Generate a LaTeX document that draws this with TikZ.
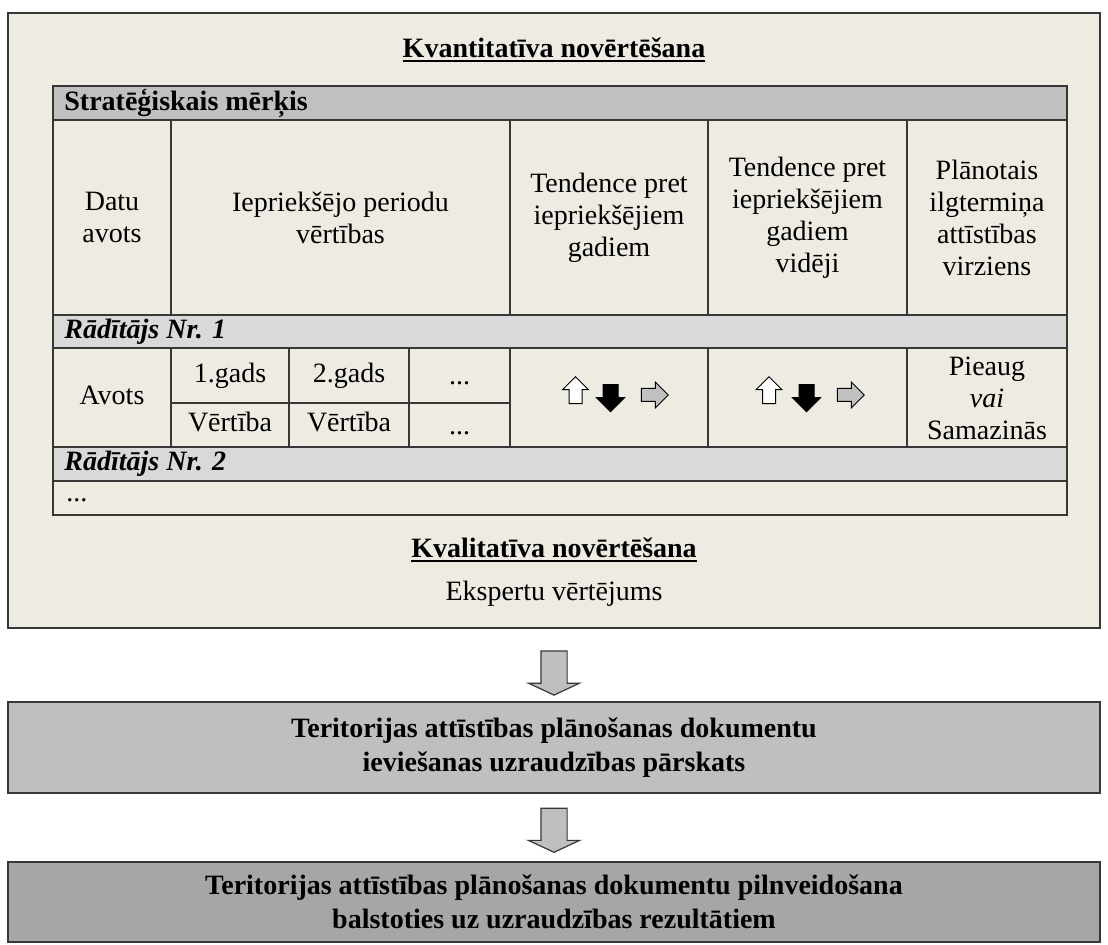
\documentclass[tikz,border=0pt]{standalone}
\usepackage{fontspec}
\setmainfont{Liberation Serif}
\usepackage{tikz}
\usetikzlibrary{shapes.arrows,calc}
\usepackage{xcolor}
\definecolor{panelbg}{RGB}{237,235,226}
\definecolor{hdrgrey}{RGB}{192,192,192}
\definecolor{rowgrey}{RGB}{217,217,217}
\definecolor{boxgrey}{RGB}{191,191,191}
\definecolor{darkgrey}{RGB}{166,166,166}
\definecolor{linegrey}{RGB}{55,55,55}
\newcommand{\tabfont}{\fontsize{14}{16}\selectfont}
\newcommand{\boxfont}{\fontsize{14}{17}\selectfont}
\newcommand{\thickul}[1]{\setbox0\hbox{#1}\leavevmode\rlap{\rule[-2.5pt]{\wd0}{1pt}}\box0}

\begin{document}
\begin{tikzpicture}[x=0.5pt, y=-0.5pt,
    panel/.style={rectangle, draw=linegrey, line width=1pt, fill=panelbg,
                  minimum width=546pt, minimum height=307.5pt, inner sep=0pt},
    stage/.style={rectangle, draw=linegrey, line width=1pt, minimum width=546pt,
                  font=\boxfont\bfseries, align=center},
    heading/.style={font=\tabfont\bfseries, inner sep=0pt},
    cell/.style={font=\tabfont, align=center},
    val/.style={font=\tabfont, text height=10pt, text depth=3pt},
    rowlabel/.style={font=\tabfont\bfseries\itshape, anchor=west, inner sep=0pt},
    grid/.style={draw=linegrey, line width=0.8pt},
    trend/.style={single arrow, draw=black, line width=0.5pt, inner sep=3pt,
                  single arrow head extend=3.25pt, minimum height=13.5pt},
    bigarr/.style={single arrow, draw=linegrey, fill=boxgrey, line width=0.6pt,
                   rotate=-90, minimum height=22pt, inner sep=6.25pt,
                   single arrow head extend=6.25pt, single arrow tip angle=130}
]
    \useasboundingbox (0,0) rectangle (1108,945);

    % Evaluation panel
    \node[panel] (eval) at (554,320.5) {};
    \node[heading] (quant) at (554,50) {\thickul{Kvantitatīva novērtēšana}};

    % Table fills
    \fill[hdrgrey] (53,86) rectangle (1067,120);
    \fill[rowgrey] (53,315) rectangle (1067,348);
    \fill[rowgrey] (53,447) rectangle (1067,481);

    % Table lines
    \draw[grid] (53,86) rectangle (1067,515);
    \foreach \yy in {120,315,348,447,481}
        \draw[grid] (53,\yy) -- (1067,\yy);
    \draw[grid] (171,403) -- (510,403);
    \foreach \xx in {171,510,708,907} {
        \draw[grid] (\xx,120) -- (\xx,315);
        \draw[grid] (\xx,348) -- (\xx,447);
    }
    \foreach \xx in {289,409}
        \draw[grid] (\xx,348) -- (\xx,447);

    % Header rows
    \node[rowlabel, font=\tabfont\bfseries] (goal) at (64,103) {Stratēģiskais mērķis};
    \node[cell] (src) at (112,217.5) {Datu\\avots};
    \node[cell] (past) at (340.5,217.5) {Iepriekšējo periodu\\vērtības};
    \node[cell] (trend1) at (609,217.5) {Tendence pret\\iepriekšējiem\\gadiem};
    \node[cell] (trend2) at (807.5,217.5) {Tendence pret\\iepriekšējiem\\gadiem\\vidēji};
    \node[cell] (plan) at (987,217.5) {Plānotais\\ilgtermiņa\\attīstības\\virziens};

    % Indicator 1
    \node[rowlabel] (ind1) at (64,331.5) {Rādītājs Nr. 1};
    \node[val] (avots) at (112,397.5) {Avots};
    \node[val] (y1) at (230,375.5) {1.gads};
    \node[val] (y2) at (349,375.5) {2.gads};
    \node[val] (yn) at (459.5,378) {...};
    \node[val] (v1) at (230,425) {Vērtība};
    \node[val] (v2) at (349,425) {Vērtība};
    \node[val] (vn) at (459.5,428) {...};
    \node[cell] (dir) at (987,398) {Pieaug\\\textit{vai}\\Samazinās};

    % Trend arrows
    \node[trend, fill=white, rotate=90] (up1) at (575.5,393.5) {};
    \node[trend, fill=black, rotate=-90, inner sep=3.5pt] (dn1) at (610.5,394.5) {};
    \node[trend, fill=hdrgrey] (rt1) at (651.5,395) {};
    \node[trend, fill=white, rotate=90] (up2) at (769,393.5) {};
    \node[trend, fill=black, rotate=-90, inner sep=3.5pt] (dn2) at (806.5,394.5) {};
    \node[trend, fill=hdrgrey] (rt2) at (847.5,395) {};

    % Indicator 2
    \node[rowlabel] (ind2) at (64,464) {Rādītājs Nr. 2};
    \node[rowlabel, font=\tabfont] (more) at (66,500) {...};

    % Qualitative part
    \node[heading] (qual) at (554,550) {\thickul{Kvalitatīva novērtēšana}};
    \node[cell] (expert) at (554,594) {Ekspertu vērtējums};

    % Report and improvement
    \node[stage, fill=boxgrey, minimum height=45.5pt] (mon) at (554,747.5)
        {Teritorijas attīstības plānošanas dokumentu\\ieviešanas uzraudzības pārskats};
    \node[stage, fill=darkgrey, minimum height=40pt] (impr) at (554,901.5)
        {Teritorijas attīstības plānošanas dokumentu pilnveidošana\\balstoties uz uzraudzības rezultātiem};

    \node[bigarr] (a1) at ($(eval.south)!0.57!(mon.north)$) {};
    \node[bigarr] (a2) at ($(mon.south)!0.5!(impr.north)$) {};
\end{tikzpicture}
\end{document}
